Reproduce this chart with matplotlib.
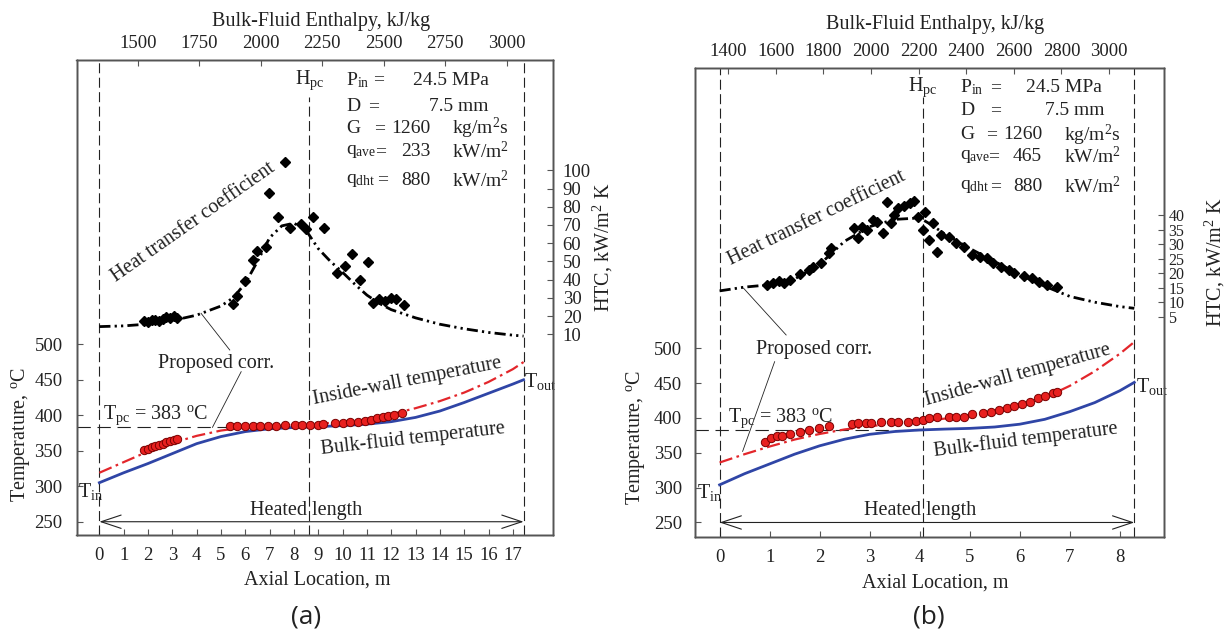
"""
Axial profiles of bulk-fluid / inside-wall temperature and HTC for two
supercritical-water runs (a) and (b), with bulk-fluid enthalpy on top.
"""

import matplotlib.pyplot as plt

plt.rcParams["font.family"] = ["Liberation Serif", "DejaVu Serif"]
plt.rcParams["mathtext.fontset"] = "custom"
plt.rcParams["mathtext.rm"] = "Liberation Serif"
plt.rcParams["mathtext.it"] = "Liberation Serif:italic"

W, H = 1226, 632
TEXT = "#222222"
SPINE = "#555555"
BLUE = "#2f45a6"
RED = "#e3262b"
FS_TICK = 13.5
FS = 14.5
FS_PARAM = 14
T_PC = 383
T_TICKS = [250, 300, 350, 400, 450, 500]

# ---------------- panel (a) ----------------
A_Z_TICKS = list(range(0, 18))
A_H_TICKS = [1500, 1750, 2000, 2250, 2500, 2750, 3000]
A_HTC_TICKS = [10, 20, 30, 40, 50, 60, 70, 80, 90, 100]
A_Z_PC = 8.63
A_Z_END = 17.44

A_CURVE_Z = [0, 1, 2, 3, 4, 5, 6, 7, 8, 9, 10, 11, 12, 13, 14, 15, 16, 17, 17.44]
A_BULK_T = [305, 319, 332, 346, 360, 370, 377, 381, 382.8, 384, 385.5, 387.5,
            391, 397, 406, 418, 431, 444, 450]
A_WALL_T = [319, 334, 349, 361, 371, 378.5, 383, 385, 386.5, 388, 390.5, 395,
            401.5, 410, 420, 432, 447, 465, 475]

A_HTC_Z = [0, 1, 2, 3, 4, 5, 5.5, 6, 6.5, 7, 7.5, 8, 8.5, 9, 9.5, 10, 10.5, 11,
           11.5, 12, 13, 14, 15, 16, 17, 17.44]
A_HTC = [14.2, 14.6, 15.6, 17.5, 20.5, 25.5, 30, 38, 50, 63, 69.5, 71, 67, 57,
         50, 44, 37.5, 31.5, 27, 23.5, 19, 15.5, 13, 11, 9.5, 9]

A_WALL_DATA_Z = [1.85, 2.0, 2.15, 2.3, 2.45, 2.6, 2.75, 2.9, 3.05, 3.2,
                 5.36, 5.67, 5.99, 6.30, 6.62, 6.93, 7.25, 7.64, 8.03, 8.35, 8.66,
                 8.98, 9.21, 9.69, 10.0, 10.31, 10.63, 10.94, 11.18, 11.41, 11.65,
                 11.88, 12.12, 12.44]
A_WALL_DATA_T = [351, 353, 355, 357, 358.5, 360, 362, 363.5, 365, 367,
                 384.5, 384.5, 384.5, 384.5, 385, 385.5, 385.5, 386, 386.5, 387, 387,
                 387, 387.5, 389, 389.5, 390, 391, 392, 394, 396, 397.5,
                 399, 400.5, 403]

A_HTC_DATA_Z = [1.85, 2.0, 2.15, 2.3, 2.45, 2.6, 2.75, 2.9, 3.05, 3.2,
                5.48, 5.67, 6.0, 6.31, 6.49, 6.85, 6.98, 7.33, 7.64, 7.83, 8.27,
                8.48, 8.79, 9.22, 9.77, 10.08, 10.4, 10.71, 11.05, 11.26, 11.5,
                11.73, 11.97, 12.2, 12.52]
A_HTC_DATA = [17.5, 17.0, 17.8, 18.0, 17.5, 18.5, 19.5, 18.8, 20.0, 19.0,
              26.5, 31, 39.4, 50.8, 55.9, 57.7, 87.7, 74.5, 104.7, 68.2, 70.5,
              67.6, 74.5, 68.2, 43.5, 47.7, 54.1, 39.8, 49.9, 27, 29.5,
              28.5, 30, 29.5, 26]

A_PARAMS = ["24.5 MPa", "7.5 mm", "1260", "233", "880"]

# ---------------- panel (b) ----------------
B_Z_TICKS = list(range(0, 9))
B_H_TICKS = [1400, 1600, 1800, 2000, 2200, 2400, 2600, 2800, 3000]
B_HTC_TICKS = [5, 10, 15, 20, 25, 30, 35, 40]
B_Z_PC = 4.07
B_Z_END = 8.29

B_CURVE_Z = [0, 0.5, 1, 1.5, 2, 2.5, 3, 3.5, 4, 4.5, 5, 5.5, 6, 6.5, 7, 7.5, 8, 8.29]
B_BULK_T = [304, 320, 334, 348, 360, 369.5, 376.5, 380.5, 382.7, 384, 385, 387,
            391, 398, 409, 422, 439, 451]
B_WALL_T = [336, 348, 359, 369, 377, 383.5, 388, 392, 395, 399, 403.5, 410,
            418.5, 429, 446, 467, 492, 509]

B_HTC_Z = [0, 0.5, 1, 1.5, 2, 2.5, 3, 3.5, 4, 4.2, 4.5, 5, 5.5, 6, 6.5, 7, 7.5, 8, 8.29]
B_HTC = [13.9, 15.2, 16, 18, 23, 31, 36, 38.5, 39, 37, 33.5, 28.5, 24, 19.5,
         15.5, 12, 10, 8.5, 7.9]

B_WALL_DATA_Z = [0.91, 1.02, 1.14, 1.25, 1.41, 1.6, 1.79, 1.99, 2.18,
                 2.64, 2.76, 2.92, 3.03, 3.22, 3.42, 3.57, 3.77, 3.92, 4.07,
                 4.19, 4.34, 4.58, 4.73, 4.89, 5.04, 5.27, 5.43, 5.58, 5.74, 5.89,
                 6.05, 6.2, 6.36, 6.51, 6.66, 6.74]
B_WALL_DATA_T = [366, 371, 373.5, 374.5, 377, 380.5, 382.5, 385, 388.5,
                 391.3, 393.2, 393.2, 392.3, 394.6, 394.6, 393.7, 394.6, 396, 397,
                 399.5, 401.8, 400.9, 401.8, 401.8, 405.2, 406.7, 409, 411.4, 413.9,
                 417.1, 420, 423.3, 428.2, 431.5, 435.3, 437.7]

B_HTC_DATA_Z = [0.94, 1.06, 1.18, 1.29, 1.41, 1.6, 1.79, 1.87, 2.03, 2.18, 2.22,
                2.68, 2.76, 2.84, 2.95, 3.07, 3.15, 3.26, 3.34, 3.42, 3.49, 3.57,
                3.69, 3.8, 3.88, 3.96, 4.07, 4.11, 4.19, 4.27, 4.35,
                4.42, 4.58, 4.73, 4.89, 5.04, 5.2, 5.35, 5.47, 5.62, 5.78, 5.89,
                6.08, 6.24, 6.39, 6.55, 6.74]
B_HTC_DATA = [15.9, 16.5, 17.3, 16.5, 17.6, 19.7, 21.1, 22.2, 23.6, 26.8, 28.5,
              35.4, 32, 36, 34.8, 38.3, 37.7, 33.7, 44.6, 37.1, 40, 42.3,
              43.1, 44, 44.9, 39.4, 34.8, 41.1, 31.4, 37.1, 27.4,
              33.1, 32.3, 30.3, 29.1, 26.2, 25.4, 25.1, 23.4, 22.2, 21.1, 20.1,
              19, 18.2, 17, 15.9, 15.3]

B_PARAMS = ["24.5 MPa", "7.5 mm", "1260", "465", "880"]

PARAM_NAMES = [r"P$_{\rm in}$", "D", "G", r"q$_{\rm ave}$", r"q$_{\rm dht}$"]
PARAM_UNITS = [r"kg/m$^2$s", r"kW/m$^2$", r"kW/m$^2$"]


def style_axes(axes):
    for a in axes:
        for sp in a.spines.values():
            sp.set_color(SPINE)
            sp.set_linewidth(1.0)
        a.tick_params(direction="in", length=4, width=0.8, color=SPINE,
                      labelcolor=TEXT, labelsize=FS_TICK)


def draw_panel(fig, d, lay):
    l, t, r, b = lay["box"]
    ax = fig.add_axes([l / W, 1 - b / H, (r - l) / W, (b - t) / H])
    ax_h = ax.twinx()
    ax_top = ax.twiny()
    ax.set_xlim(*lay["xlim"])
    ax.set_ylim(*lay["ylim"])
    ax_h.set_ylim(*lay["hlim"])
    ax_top.set_xlim(*lay["toplim"])
    style_axes([ax, ax_h, ax_top])

    ax.set_xticks(d["z_ticks"])
    ax.set_yticks(T_TICKS)
    ax_h.set_yticks(d["htc_ticks"])
    ax_top.set_xticks(d["h_ticks"])
    ax.tick_params(axis="x", pad=lay["pad_b"])
    ax.tick_params(axis="y", pad=lay["pad_l"])
    ax_h.tick_params(axis="y", pad=lay["pad_r"], labelsize=lay["htc_fs"])
    ax_top.tick_params(axis="x", pad=lay["pad_t"])

    z_pc, z_end = d["z_pc"], d["z_end"]
    y0 = lay["ylim"][0]
    dash = dict(color=TEXT, lw=0.8, dashes=(9, 4))
    ax.axvline(0, **dash)
    ax.axvline(z_end, **dash)
    ax.plot([z_pc, z_pc], [y0, lay["pc_top"]], **dash)
    ax.plot([lay["xlim"][0], z_pc], [T_PC, T_PC], color=TEXT, lw=0.8, dashes=(12, 6))

    # temperature curves and wall data
    ax.plot(d["curve_z"], d["bulk"], color=BLUE, lw=2.0)
    ax.plot(d["curve_z"], d["wall"], color=RED, lw=1.6, dashes=(6, 2, 1.2, 2))
    ax.plot(d["wall_z"], d["wall_t"], "o", ms=6, mfc="#e8201f", mec="#7a0000", mew=0.7)

    # HTC curve and data
    ax_h.plot(d["htc_z"], d["htc"], color="black", lw=2.0,
              dashes=(4, 1.5, 0.8, 1.5, 0.8, 1.5))
    ax_h.plot(d["htc_data_z"], d["htc_data"], "D", ms=5.5, color="black")

    # heated length arrow
    ax.annotate("", xy=(0, 250), xytext=(z_end, 250),
                arrowprops=dict(arrowstyle="<->,head_length=0.9,head_width=0.3",
                                color=TEXT, lw=0.8, shrinkA=0, shrinkB=0,
                                mutation_scale=16))
    ax.text(lay["heated"][0], lay["heated"][1], "Heated length", ha="center",
            va="center", fontsize=FS, color=TEXT)

    kw = dict(fontsize=FS, color=TEXT)
    ax.text(*lay["tin"], r"T$_{\rm in}$", ha="left", va="center", **kw)
    ax.text(*lay["tout"], r"T$_{\rm out}$", ha="left", va="center", **kw)
    ax.text(*lay["tpc"], r"T$_{\rm pc}$ = 383 $^{\rm o}$C", ha="left", va="center", **kw)
    ax.text(z_pc, lay["rows"][0], r"H$_{\rm pc}$", ha="center", va="center", **kw)

    # run parameters
    pk = dict(fontsize=FS_PARAM, color=TEXT, va="center")
    rows = lay["rows"]
    for i, name in enumerate(PARAM_NAMES):
        ax.text(lay["name_x"], rows[i], name, ha="left", **pk)
        ax.text(lay["eq_x"][i], rows[i], "=", ha="left", **pk)
    vals = d["params"]
    ax.text(lay["p_x"], rows[0], vals[0], ha="left", **pk)
    ax.text(lay["d_x"], rows[1], vals[1], ha="left", **pk)
    for i in range(3):
        ax.text(lay["val_x"], rows[i + 2], vals[i + 2], ha="right", **pk)
        ax.text(lay["unit_x"], rows[i + 2], PARAM_UNITS[i], ha="left", **pk)

    # curve labels
    ax.text(*lay["htc_lbl"], "Heat transfer coefficient", rotation=lay["htc_rot"],
            ha="center", va="center", rotation_mode="anchor", **kw)
    ax.text(*lay["wall_lbl"], "Inside-wall temperature", rotation=lay["wall_rot"],
            ha="center", va="center", rotation_mode="anchor", **kw)
    ax.text(*lay["bulk_lbl"], "Bulk-fluid temperature", rotation=lay["bulk_rot"],
            ha="center", va="center", rotation_mode="anchor", **kw)
    ax.text(*lay["prop_lbl"], "Proposed corr.", ha="center", va="center", **kw)
    for (x1, y1), (x2, y2) in lay["leaders"]:
        ax.plot([x1, x2], [y1, y2], color=TEXT, lw=0.6)

    # axis titles
    fig.text(lay["top_title"][0] / W, 1 - lay["top_title"][1] / H,
             "Bulk-Fluid Enthalpy, kJ/kg", ha="center", va="center", **kw)
    fig.text(lay["xlabel"][0] / W, 1 - lay["xlabel"][1] / H, "Axial Location, m",
             ha="center", va="center", **kw)
    fig.text(lay["ylabel"][0] / W, 1 - lay["ylabel"][1] / H,
             r"Temperature, $^{\rm o}$C", rotation=90, ha="center", va="center", **kw)
    fig.text(lay["hlabel"][0] / W, 1 - lay["hlabel"][1] / H,
             r"HTC, kW/m$^2$ K", rotation=90, ha="center", va="center", **kw)
    fig.text(lay["tag"][0] / W, 1 - lay["tag"][1] / H, lay["tag_text"],
             ha="center", va="center", fontsize=19, color=TEXT,
             family=["Open Sans", "DejaVu Sans"])


def main():
    fig = plt.figure(figsize=(W / 100, H / 100), dpi=100)
    fig.patch.set_facecolor("white")

    data_a = dict(z_ticks=A_Z_TICKS, h_ticks=A_H_TICKS, htc_ticks=A_HTC_TICKS,
                  z_pc=A_Z_PC, z_end=A_Z_END, curve_z=A_CURVE_Z, bulk=A_BULK_T,
                  wall=A_WALL_T, wall_z=A_WALL_DATA_Z, wall_t=A_WALL_DATA_T,
                  htc_z=A_HTC_Z, htc=A_HTC, htc_data_z=A_HTC_DATA_Z,
                  htc_data=A_HTC_DATA, params=A_PARAMS)
    lay_a = dict(box=(76.5, 60.3, 553, 535), xlim=(-0.94, 18.65), ylim=(231.3, 900.2),
                 hlim=(-100.2, 160.4), toplim=(1250.8, 3187.8),
                 pad_b=9, pad_l=10, pad_r=7, pad_t=6, htc_fs=FS_TICK, pc_top=849,
                 heated=(8.5, 266.5), tin=(-0.86, 292), tout=(17.44, 447.3),
                 tpc=(0.15, 400.4), rows=[872.4, 834.8, 804.3, 771.4, 731.4],
                 name_x=10.14, eq_x=[11.25, 11.05, 11.3, 11.35, 11.4],
                 p_x=12.9, d_x=13.54, val_x=13.62, unit_x=14.5,
                 htc_lbl=(3.86, 672), htc_rot=35, wall_lbl=(12.68, 447.3), wall_rot=11,
                 bulk_lbl=(12.91, 367.5), bulk_rot=6.5, prop_lbl=(4.8, 473.6),
                 leaders=[((5.36, 492), (4.18, 543.7)), ((5.83, 461.4), (4.65, 383))],
                 top_title=(321, 21.7), xlabel=(317.6, 580), ylabel=(21, 435),
                 hlabel=(603, 247), tag=(306, 617), tag_text="(a)")
    draw_panel(fig, data_a, lay_a)

    data_b = dict(z_ticks=B_Z_TICKS, h_ticks=B_H_TICKS, htc_ticks=B_HTC_TICKS,
                  z_pc=B_Z_PC, z_end=B_Z_END, curve_z=B_CURVE_Z, bulk=B_BULK_T,
                  wall=B_WALL_T, wall_z=B_WALL_DATA_Z, wall_t=B_WALL_DATA_T,
                  htc_z=B_HTC_Z, htc=B_HTC, htc_data_z=B_HTC_DATA_Z,
                  htc_data=B_HTC_DATA, params=B_PARAMS)
    lay_b = dict(box=(694.6, 68.3, 1164.3, 536.7), xlim=(-0.50, 8.89), ylim=(229.6, 901.6),
                 hlim=(-70.7, 90.5), toplim=(1258.8, 3232.4),
                 pad_b=9, pad_l=9, pad_r=3, pad_t=6, htc_fs=11.5, pc_top=861,
                 heated=(4.0, 266.5), tin=(-0.45, 292.3), tout=(8.33, 444.8),
                 tpc=(0.17, 399.5), rows=[874.4, 840.4, 806, 774.9, 731.8],
                 name_x=4.81, eq_x=[5.41, 5.41, 5.33, 5.37, 5.41], p_x=6.13,
                 d_x=6.51, val_x=6.45, unit_x=6.88, htc_lbl=(1.95, 687), htc_rot=26,
                 wall_lbl=(5.97, 461.6), wall_rot=15.5, bulk_lbl=(6.12, 368.4),
                 bulk_rot=7, prop_lbl=(1.89, 497.5),
                 leaders=[((1.33, 519), (0.48, 586)), ((1.1, 480.7), (0.46, 352))],
                 top_title=(935, 25), xlabel=(935, 583), ylabel=(635.5, 438),
                 hlabel=(1215, 262), tag=(929, 617), tag_text="(b)")
    draw_panel(fig, data_b, lay_b)

    fig.savefig("out.png", dpi=100, facecolor="white")
    plt.close(fig)


if __name__ == "__main__":
    main()
